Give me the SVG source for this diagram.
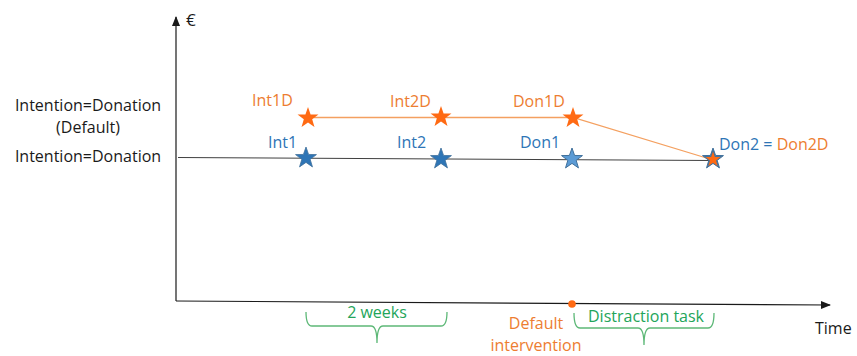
<svg xmlns="http://www.w3.org/2000/svg" width="857" height="356" viewBox="0 0 857 356">
<style>
text{font-family:"Open Sans","Liberation Sans",sans-serif;font-size:16px}
.k{fill:#1a1a1a}
.o{fill:#ED7D31}
.b{fill:#2E75B6}
.g{fill:#23A55A}
.brace{fill:none;stroke:#5DB877;stroke-width:1.3}
.axis{stroke:#1a1a1a;stroke-width:1.2;fill:none}
</style>
<defs>
<path id="star" d="M0,-11 L2.586,-3.56 L10.462,-3.399 L4.185,1.36 L6.466,8.899 L0,4.4 L-6.466,8.899 L-4.185,1.36 L-10.462,-3.399 L-2.586,-3.56 Z"/>
<marker id="ah" markerWidth="10" markerHeight="10" refX="9" refY="5" orient="auto" markerUnits="userSpaceOnUse">
<path d="M0,1 L10,5 L0,9 Z" fill="#1a1a1a"/>
</marker>
</defs>
<g id="axes">
<line class="axis" x1="176" y1="301" x2="176" y2="17" marker-end="url(#ah)"/>
<line class="axis" x1="176" y1="301" x2="830" y2="305" marker-end="url(#ah)"/>
<text class="k" x="186" y="26" style="font-size:17px">€</text>
<text class="k" x="815" y="334">Time</text>
</g>
<g id="labels-left">
<text class="k" x="88" y="111" text-anchor="middle">Intention=Donation</text>
<text class="k" x="88" y="133" text-anchor="middle">(Default)</text>
<text class="k" x="88" y="162" text-anchor="middle">Intention=Donation</text>
</g>
<g id="connectors">
<polyline points="178,157.5 713,160.5" fill="none" stroke="#404040" stroke-width="1"/>
<polyline points="308,117.5 573,117.5 713,160" fill="none" stroke="#F4A060" stroke-width="1.3"/>
</g>
<g id="Int1D"><use href="#star" x="308" y="118" fill="#FF6A13"/><text class="o" x="252" y="106">Int1D</text></g>
<g id="Int1"><use href="#star" x="306" y="158" fill="#2E75B6" stroke="#41719C" stroke-width="0.8"/><text class="b" x="268" y="148">Int1</text></g>
<g id="Int2D"><use href="#star" x="441" y="117" fill="#FF6A13"/><text class="o" x="390" y="107">Int2D</text></g>
<g id="Int2"><use href="#star" x="441" y="159" fill="#2E75B6" stroke="#41719C" stroke-width="0.8"/><text class="b" x="397" y="148">Int2</text></g>
<g id="Don1D"><use href="#star" x="573" y="118" fill="#FF6A13"/><text class="o" x="513" y="107">Don1D</text></g>
<g id="Don1"><use href="#star" x="572" y="159" fill="#5B9BD5" stroke="#41719C" stroke-width="1"/><text class="b" x="520" y="148">Don1</text></g>
<g id="Don2">
<use href="#star" x="713" y="159" fill="#41719C" stroke="#41719C" stroke-width="1"/>
<use href="#star" transform="translate(713,159.5) scale(0.72)" fill="#FF6A13"/>
<text x="719" y="150"><tspan class="b">Don2 = </tspan><tspan class="o">Don2D</tspan></text>
</g>
<g id="two-weeks">
<path class="brace" d="M306,312 Q306,326 312,326 L371,326 Q377,326 377,343 Q377,326 383,326 L441,326 Q447,326 447,312"/>
<text class="g" x="377" y="318" text-anchor="middle">2 weeks</text>
</g>
<g id="default-intervention">
<circle cx="572" cy="304" r="3.8" fill="#FF6A13"/>
<text class="o" x="536" y="329" text-anchor="middle">Default</text>
<text class="o" x="536" y="351" text-anchor="middle">intervention</text>
</g>
<g id="distraction">
<path class="brace" d="M574,313 Q574,328 580,328 L638,328 Q644,328 644,345 Q644,328 650,328 L708,328 Q714,328 714,313"/>
<text class="g" x="646" y="322" text-anchor="middle">Distraction task</text>
</g>
</svg>
